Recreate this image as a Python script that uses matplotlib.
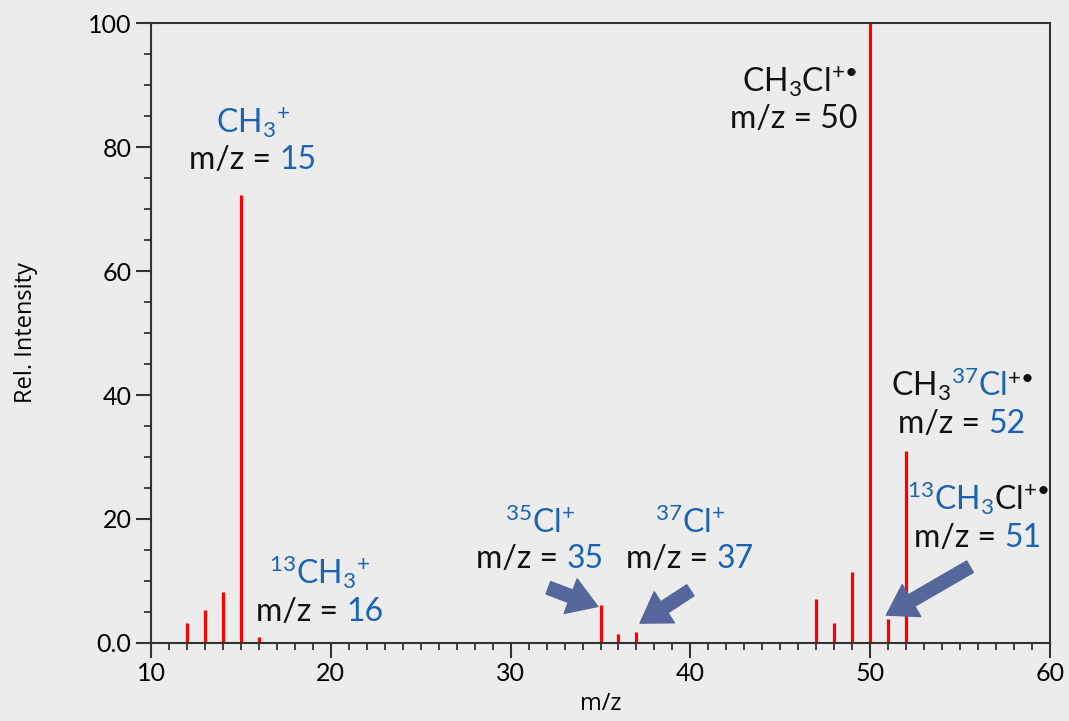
import matplotlib
matplotlib.use('Agg')
import matplotlib.pyplot as plt
from matplotlib.offsetbox import TextArea, HPacker, VPacker, AnnotationBbox
from matplotlib.ticker import MultipleLocator

# peak list (m/z, relative intensity)
mz = [12, 13, 14, 15, 16, 35, 36, 37, 47, 48, 49, 50, 51, 52]
intensity = [3.2, 5.3, 8.3, 72.3, 0.9, 6.1, 1.4, 1.8, 7.1, 3.3, 11.4, 100, 3.8, 31.0]

x_ticks = [10, 20, 30, 40, 50, 60]
y_ticks = [0, 20, 40, 60, 80, 100]
y_ticklabels = ['0.0', '20', '40', '60', '80', '100']

BLUE = '#1a63b5'
BLACK = '#111111'
ARROW = '#55679b'
BG = '#ececec'

plt.rcParams['font.family'] = ['Lato', 'DejaVu Sans']
plt.rcParams['mathtext.fontset'] = 'custom'
plt.rcParams['mathtext.rm'] = 'Lato'
plt.rcParams['mathtext.it'] = 'Lato:italic'
plt.rcParams['mathtext.bf'] = 'Lato:bold'

fig = plt.figure(figsize=(10.69, 7.21), dpi=100, facecolor=BG)
ax = fig.add_axes([151 / 1069, 1 - 643 / 721, 899 / 1069, 620 / 721])
ax.set_facecolor(BG)

ax.vlines(mz, 0, intensity, color='#ff0000', linewidth=2.3)

ax.set_xlim(10, 60)
ax.set_ylim(0, 100)
ax.set_xticks(x_ticks)
ax.set_yticks(y_ticks)
ax.set_yticklabels(y_ticklabels)
ax.xaxis.set_minor_locator(MultipleLocator(1))
ax.yaxis.set_minor_locator(MultipleLocator(5))
ax.tick_params(which='major', length=11, width=1.5, color='#333333', labelsize=18, pad=3)
ax.tick_params(which='minor', length=5, width=1.3, color='#333333')
for s in ax.spines.values():
    s.set_color('#333333')
    s.set_linewidth(1.5)

ax.set_xlabel('m/z', fontsize=17, family=['Open Sans', 'DejaVu Sans'], labelpad=5)
ax.set_ylabel('Rel. Intensity', fontsize=17, family=['Open Sans', 'DejaVu Sans'], labelpad=36)

FS = 23


def line(parts):
    return HPacker(children=[TextArea(t, textprops=dict(color=c, fontsize=FS)) for t, c in parts],
                   align='baseline', pad=0, sep=0)


def label(lines, xy, align='center', box_alignment=(0.5, 0.5)):
    box = VPacker(children=[line(p) for p in lines], align=align, pad=0, sep=4)
    ab = AnnotationBbox(box, xy, xycoords='data', frameon=False, box_alignment=box_alignment,
                        annotation_clip=False)
    ax.add_artist(ab)


label([[('CH$_\\mathregular{3}$$^\\mathregular{+}$', BLUE)],
       [('m/z = ', BLACK), ('15', BLUE)]], (15.67, 81.1))
label([[('$^\\mathregular{13}$CH$_\\mathregular{3}$$^\\mathregular{+}$', BLUE)],
       [('m/z = ', BLACK), ('16', BLUE)]], (19.4, 8.5))
label([[('$^\\mathregular{35}$Cl$^\\mathregular{+}$', BLUE)],
       [('m/z = ', BLACK), ('35', BLUE)]], (31.63, 16.6))
label([[('$^\\mathregular{37}$Cl$^\\mathregular{+}$', BLUE)],
       [('m/z = ', BLACK), ('37', BLUE)]], (39.98, 16.6))
label([[('CH$_\\mathregular{3}$Cl$^\\mathregular{+\u2022}$', BLACK)],
       [('m/z = 50', BLACK)]], (49.27, 87.7), align='right', box_alignment=(1, 0.5))
label([[('CH$_\\mathregular{3}$', BLACK), ('$^\\mathregular{37}$Cl', BLUE), ('$^\\mathregular{+\u2022}$', BLACK)],
       [('m/z = ', BLACK), ('52', BLUE)]], (55.1, 38.5))
label([[('$^\\mathregular{13}$CH$_\\mathregular{3}$', BLUE), ('Cl$^\\mathregular{+\u2022}$', BLACK)],
       [('m/z = ', BLACK), ('51', BLUE)]], (56.0, 20.5))

arrow_style = 'simple,head_length=1.1,head_width=1.4,tail_width=0.5'
for tip, tail in [((34.85, 5.9), (32.1, 8.9)),
                  ((37.2, 3.2), (40.0, 8.5)),
                  ((50.9, 4.5), (55.55, 12.3))]:
    ax.annotate('', xy=tip, xytext=tail, xycoords='data',
                arrowprops=dict(arrowstyle=arrow_style, color=ARROW, shrinkA=0, shrinkB=0,
                                mutation_scale=19))

fig.savefig('out.png', dpi=100, facecolor=BG)
